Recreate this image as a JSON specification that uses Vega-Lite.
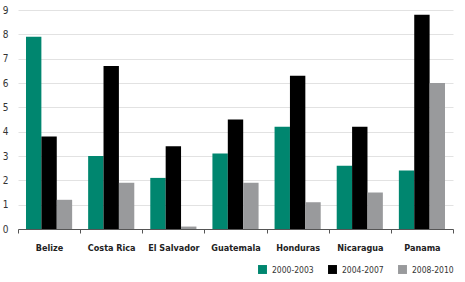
{
  "$schema": "https://vega.github.io/schema/vega-lite/v6.json",
  "autosize": {"type": "none"},
  "padding": {"left": 18, "top": 10, "right": 12, "bottom": 53},
  "width": 435,
  "height": 219,
  "background": "white",
  "config": {
    "font": "DejaVu Sans Condensed, sans-serif",
    "view": {"stroke": null}
  },
  "data": {
    "values": [
      {"country": "Belize", "period": "2000-2003", "value": 7.9},
      {"country": "Belize", "period": "2004-2007", "value": 3.8},
      {"country": "Belize", "period": "2008-2010", "value": 1.2},
      {"country": "Costa Rica", "period": "2000-2003", "value": 3.0},
      {"country": "Costa Rica", "period": "2004-2007", "value": 6.7},
      {"country": "Costa Rica", "period": "2008-2010", "value": 1.9},
      {"country": "El Salvador", "period": "2000-2003", "value": 2.1},
      {"country": "El Salvador", "period": "2004-2007", "value": 3.4},
      {"country": "El Salvador", "period": "2008-2010", "value": 0.1},
      {"country": "Guatemala", "period": "2000-2003", "value": 3.1},
      {"country": "Guatemala", "period": "2004-2007", "value": 4.5},
      {"country": "Guatemala", "period": "2008-2010", "value": 1.9},
      {"country": "Honduras", "period": "2000-2003", "value": 4.2},
      {"country": "Honduras", "period": "2004-2007", "value": 6.3},
      {"country": "Honduras", "period": "2008-2010", "value": 1.1},
      {"country": "Nicaragua", "period": "2000-2003", "value": 2.6},
      {"country": "Nicaragua", "period": "2004-2007", "value": 4.2},
      {"country": "Nicaragua", "period": "2008-2010", "value": 1.5},
      {"country": "Panama", "period": "2000-2003", "value": 2.4},
      {"country": "Panama", "period": "2004-2007", "value": 8.8},
      {"country": "Panama", "period": "2008-2010", "value": 6.0}
    ]
  },
  "mark": {"type": "bar"},
  "encoding": {
    "x": {
      "field": "country",
      "type": "nominal",
      "sort": null,
      "title": null,
      "scale": {"paddingInner": 0, "paddingOuter": 0},
      "axis": {
        "labelAngle": 0,
        "labelFontWeight": "bold",
        "labelFontSize": 9,
        "labelColor": "#222222",
        "labelPadding": 10,
        "tickBand": "extent",
        "tickSize": 4,
        "tickColor": "#555555",
        "domainColor": "#555555",
        "grid": false
      }
    },
    "xOffset": {
      "field": "period",
      "type": "nominal",
      "scale": {"paddingInner": 0, "paddingOuter": 0.52}
    },
    "y": {
      "field": "value",
      "type": "quantitative",
      "title": null,
      "scale": {"domain": [0, 9], "nice": false},
      "axis": {
        "values": [0, 1, 2, 3, 4, 5, 6, 7, 8, 9],
        "domain": false,
        "ticks": false,
        "labelPadding": 10,
        "labelFontSize": 10,
        "labelColor": "#333333",
        "gridColor": "#e2e2e2",
        "gridWidth": 1
      }
    },
    "color": {
      "field": "period",
      "type": "nominal",
      "title": null,
      "scale": {
        "domain": ["2000-2003", "2004-2007", "2008-2010"],
        "range": ["#00866f", "#000000", "#999a9c"]
      },
      "legend": {
        "orient": "none",
        "direction": "horizontal",
        "legendX": 240,
        "legendY": 255,
        "symbolType": "square",
        "symbolSize": 80,
        "symbolStrokeWidth": 0,
        "symbolOffset": 0,
        "labelOffset": 5,
        "labelFontSize": 8.5,
        "labelColor": "#333333",
        "columnPadding": 14
      }
    }
  }
}
